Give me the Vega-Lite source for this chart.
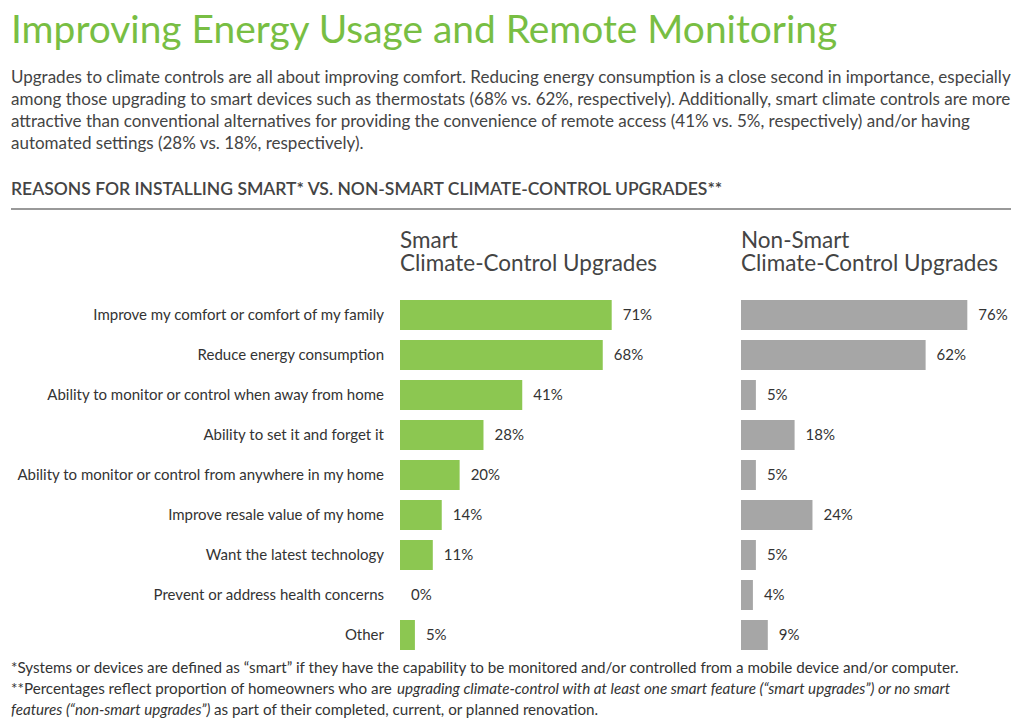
{
  "$schema": "https://vega.github.io/schema/vega-lite/v6.json",
  "background": "white",
  "padding": {"left": 10, "top": 11, "right": 0, "bottom": 0},
  "config": {
    "view": {"stroke": null},
    "font": "Lato",
    "text": {"font": "Lato"},
    "title": {"font": "Lato", "fontWeight": "normal", "anchor": "start", "frame": "group"}
  },
  "datasets": {
    "reasons": [
      {"reason": "Improve my comfort or comfort of my family", "smart": 0.71, "nonsmart": 0.76},
      {"reason": "Reduce energy consumption", "smart": 0.68, "nonsmart": 0.62},
      {"reason": "Ability to monitor or control when away from home", "smart": 0.41, "nonsmart": 0.05},
      {"reason": "Ability to set it and forget it", "smart": 0.28, "nonsmart": 0.18},
      {"reason": "Ability to monitor or control from anywhere in my home", "smart": 0.20, "nonsmart": 0.05},
      {"reason": "Improve resale value of my home", "smart": 0.14, "nonsmart": 0.24},
      {"reason": "Want the latest technology", "smart": 0.11, "nonsmart": 0.05},
      {"reason": "Prevent or address health concerns", "smart": 0.0, "nonsmart": 0.04},
      {"reason": "Other", "smart": 0.05, "nonsmart": 0.09}
    ]
  },
  "title": {
    "text": "Improving Energy Usage and Remote Monitoring",
    "subtitle": [
      "Upgrades to climate controls are all about improving comfort. Reducing energy consumption is a close second in importance, especially",
      "among those upgrading to smart devices such as thermostats (68% vs. 62%, respectively). Additionally, smart climate controls are more",
      "attractive than conventional alternatives for providing the convenience of remote access (41% vs. 5%, respectively) and/or having",
      "automated settings (28% vs. 18%, respectively)."
    ],
    "fontSize": 38.9,
    "color": "#78be43",
    "subtitleFont": "Lato",
    "subtitleFontSize": 17,
    "subtitleColor": "#444444",
    "subtitleLineHeight": 22,
    "subtitlePadding": 19,
    "offset": 29
  },
  "spacing": 2,
  "vconcat": [
    {
      "width": 1000,
      "height": 19,
      "title": {
        "text": "REASONS FOR INSTALLING SMART* VS. NON-SMART CLIMATE-CONTROL UPGRADES**",
        "fontSize": 17.5,
        "fontWeight": 600,
        "color": "#444444",
        "offset": 10
      },
      "data": {"values": [{"a": 0, "b": 1}]},
      "mark": {"type": "rule", "color": "#777777", "strokeWidth": 1.5},
      "encoding": {
        "x": {"field": "a", "type": "quantitative", "scale": {"domain": [0, 1]}, "axis": null},
        "x2": {"field": "b"},
        "y": {"datum": 1, "type": "quantitative", "scale": {"domain": [0, 1]}, "axis": null}
      }
    },
    {
      "spacing": 16,
      "hconcat": [
        {
          "width": 373,
          "height": 360,
          "data": {"name": "reasons"},
          "mark": {"type": "text", "align": "right", "baseline": "middle", "fontSize": 15, "color": "#333333"},
          "encoding": {
            "x": {"datum": 1, "type": "quantitative", "scale": {"domain": [0, 1]}, "axis": null},
            "y": {"field": "reason", "type": "nominal", "sort": null, "axis": null, "scale": {"paddingInner": 0.25, "paddingOuter": 0.125}},
            "text": {"field": "reason"}
          }
        },
        {
          "width": 325,
          "height": 360,
          "title": {"text": "Smart", "subtitle": "Climate-Control Upgrades", "fontSize": 22.5, "subtitleFontSize": 22.5, "subtitleFont": "Lato", "subtitlePadding": 0, "color": "#444444", "subtitleColor": "#444444", "offset": 20},
          "data": {"name": "reasons"},
          "encoding": {
            "y": {"field": "reason", "type": "nominal", "sort": null, "axis": null, "scale": {"paddingInner": 0.25, "paddingOuter": 0.125}},
            "x": {"field": "smart", "type": "quantitative", "scale": {"domain": [0, 1.09]}, "axis": null}
          },
          "layer": [
            {"mark": {"type": "bar", "color": "#8cc751"}},
            {
              "mark": {"type": "text", "align": "left", "baseline": "middle", "dx": 11, "fontSize": 15, "color": "#333333"},
              "encoding": {"text": {"field": "smart", "type": "quantitative", "format": ".0%"}}
            }
          ]
        },
        {
          "width": 268,
          "height": 360,
          "title": {"text": "Non-Smart", "subtitle": "Climate-Control Upgrades", "fontSize": 22.5, "subtitleFontSize": 22.5, "subtitleFont": "Lato", "subtitlePadding": 0, "color": "#444444", "subtitleColor": "#444444", "offset": 20},
          "data": {"name": "reasons"},
          "encoding": {
            "y": {"field": "reason", "type": "nominal", "sort": null, "axis": null, "scale": {"paddingInner": 0.25, "paddingOuter": 0.125}},
            "x": {"field": "nonsmart", "type": "quantitative", "scale": {"domain": [0, 0.9]}, "axis": null}
          },
          "layer": [
            {"mark": {"type": "bar", "color": "#a6a6a6"}},
            {
              "mark": {"type": "text", "align": "left", "baseline": "middle", "dx": 11, "fontSize": 15, "color": "#333333"},
              "encoding": {"text": {"field": "nonsmart", "type": "quantitative", "format": ".0%"}}
            }
          ]
        }
      ]
    },
    {
      "width": 1000,
      "height": 63,
      "encoding": {
        "y": {"field": "line", "type": "ordinal", "axis": null, "scale": {"type": "point", "domain": [1, 2, 3], "padding": 0.5}},
        "text": {"field": "text"}
      },
      "layer": [
        {
          "data": {"values": [
            {"line": 1, "text": "*Systems or devices are defined as “smart” if they have the capability to be monitored and/or controlled from a mobile device and/or computer."},
            {"line": 2, "text": "**Percentages reflect proportion of homeowners who are"}
          ]},
          "mark": {"type": "text", "align": "left", "baseline": "middle", "fontSize": 15.2, "color": "#333333"},
          "encoding": {"x": {"datum": 0, "type": "quantitative", "scale": {"domain": [0, 1000]}, "axis": null}}
        },
        {
          "data": {"values": [{"line": 2, "text": "upgrading climate-control with at least one smart feature (“smart upgrades”) or no smart"}]},
          "mark": {"type": "text", "align": "left", "baseline": "middle", "fontSize": 15.2, "fontStyle": "italic", "color": "#333333"},
          "encoding": {"x": {"datum": 386, "type": "quantitative"}}
        },
        {
          "data": {"values": [{"line": 3, "text": "features (“non-smart upgrades”)"}]},
          "mark": {"type": "text", "align": "left", "baseline": "middle", "fontSize": 15.2, "fontStyle": "italic", "color": "#333333"},
          "encoding": {"x": {"datum": 0, "type": "quantitative"}}
        },
        {
          "data": {"values": [{"line": 3, "text": "as part of their completed, current, or planned renovation."}]},
          "mark": {"type": "text", "align": "left", "baseline": "middle", "fontSize": 15.2, "color": "#333333"},
          "encoding": {"x": {"datum": 203, "type": "quantitative"}}
        }
      ]
    }
  ]
}
